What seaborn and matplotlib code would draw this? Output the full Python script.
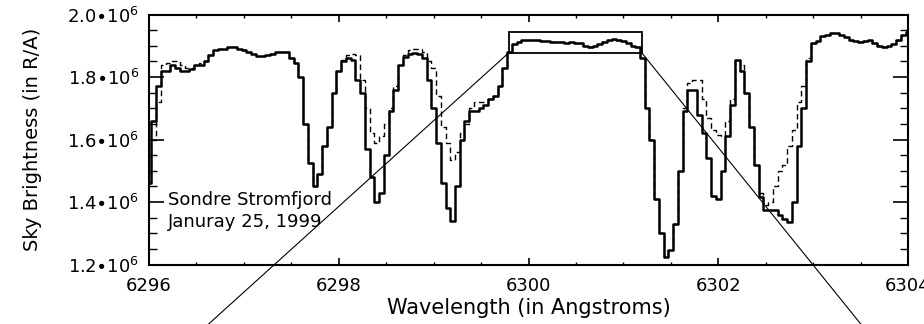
import numpy as np
import matplotlib
matplotlib.use("Agg")
import matplotlib.pyplot as plt
import seaborn as sns
from matplotlib.patches import Rectangle
from matplotlib.ticker import MultipleLocator, FixedLocator

# spectra sampled every 0.05 A starting at 6296.0 A (values in units of 1e6 R/A)
wl_start = 6296.0
wl_step = 0.05

solid = [
    1.46, 1.66, 1.77, 1.82, 1.82, 1.84, 1.83, 1.82, 1.82, 1.825,
    1.84, 1.84, 1.85, 1.87, 1.885, 1.89, 1.89, 1.895, 1.895, 1.89,
    1.885, 1.88, 1.875, 1.867, 1.867, 1.87, 1.875, 1.88, 1.88, 1.88,
    1.86, 1.845, 1.80, 1.65, 1.525, 1.45, 1.49, 1.58, 1.64, 1.75,
    1.82, 1.85, 1.86, 1.855, 1.79, 1.75, 1.57, 1.48, 1.40, 1.43,
    1.55, 1.69, 1.76, 1.84, 1.865, 1.875, 1.878, 1.875, 1.86, 1.79,
    1.70, 1.59, 1.46, 1.38, 1.34, 1.45, 1.60, 1.66, 1.69, 1.69,
    1.70, 1.71, 1.73, 1.74, 1.77, 1.83, 1.88, 1.905, 1.912, 1.918,
    1.92, 1.92, 1.918, 1.915, 1.915, 1.912, 1.912, 1.912, 1.91, 1.912,
    1.91, 1.908, 1.90, 1.896, 1.898, 1.905, 1.912, 1.92, 1.922, 1.92,
    1.915, 1.91, 1.90, 1.895, 1.86, 1.70, 1.60, 1.41, 1.30, 1.225,
    1.245, 1.33, 1.50, 1.69, 1.758, 1.76, 1.68, 1.62, 1.54, 1.42,
    1.41, 1.50, 1.61, 1.71, 1.855, 1.82, 1.75, 1.64, 1.52, 1.416,
    1.375, 1.375, 1.375, 1.36, 1.345, 1.336, 1.40, 1.58, 1.70, 1.85,
    1.91, 1.915, 1.932, 1.935, 1.94, 1.94, 1.935, 1.928, 1.92, 1.915,
    1.912, 1.915, 1.918, 1.91, 1.90, 1.895, 1.90, 1.905, 1.92, 1.935,
    1.945,
]

dashed = [
    1.46, 1.60, 1.72, 1.84, 1.845, 1.85, 1.85, 1.84, 1.83, 1.83,
    1.84, 1.845, 1.85, 1.87, 1.885, 1.89, 1.89, 1.895, 1.895, 1.89,
    1.885, 1.88, 1.875, 1.867, 1.867, 1.87, 1.875, 1.88, 1.88, 1.88,
    1.86, 1.845, 1.80, 1.65, 1.525, 1.45, 1.49, 1.58, 1.64, 1.75,
    1.82, 1.855, 1.87, 1.875, 1.87, 1.79, 1.70, 1.62, 1.59, 1.61,
    1.65, 1.70, 1.77, 1.84, 1.87, 1.885, 1.89, 1.89, 1.88, 1.85,
    1.83, 1.74, 1.64, 1.59, 1.535, 1.56, 1.62, 1.65, 1.70, 1.72,
    1.72, 1.72, 1.73, 1.74, 1.77, 1.83, 1.88, 1.905, 1.912, 1.918,
    1.92, 1.92, 1.918, 1.915, 1.915, 1.912, 1.912, 1.912, 1.91, 1.912,
    1.91, 1.908, 1.90, 1.896, 1.898, 1.905, 1.912, 1.92, 1.922, 1.92,
    1.915, 1.91, 1.90, 1.895, 1.86, 1.70, 1.60, 1.41, 1.30, 1.225,
    1.245, 1.33, 1.50, 1.70, 1.78, 1.79, 1.79, 1.73, 1.67, 1.63,
    1.615, 1.61, 1.66, 1.73, 1.855, 1.84, 1.75, 1.64, 1.52, 1.43,
    1.39, 1.40, 1.45, 1.50, 1.52, 1.58, 1.63, 1.72, 1.77, 1.86,
    1.91, 1.915, 1.932, 1.935, 1.94, 1.94, 1.935, 1.928, 1.92, 1.915,
    1.912, 1.915, 1.918, 1.91, 1.90, 1.895, 1.90, 1.905, 1.92, 1.935,
    1.945,
]

scale = 1e6
wl = wl_start + wl_step * np.arange(len(solid))
solid = np.array(solid) * scale
dashed = np.array(dashed) * scale

# zoom box on the flat top and the two lines running down to the (cut off) panel below
box_x = [6299.79, 6301.195]
box_y = [1.877e6, 1.944e6]
zoom_left_end = (6295.74, 0.766e6)
zoom_right_end = (6304.15, 0.766e6)

ytick_vals = [1.2e6, 1.4e6, 1.6e6, 1.8e6, 2.0e6]
ytick_labels = [r"$1.2{\bullet}10^6$", r"$1.4{\bullet}10^6$", r"$1.6{\bullet}10^6$",
                r"$1.8{\bullet}10^6$", r"$2.0{\bullet}10^6$"]

sns.set_style("ticks")
plt.rcParams["font.family"] = ["DejaVu Sans"]
plt.rcParams["text.color"] = "black"
plt.rcParams["axes.labelcolor"] = "black"
plt.rcParams["axes.edgecolor"] = "black"
plt.rcParams["xtick.color"] = "black"
plt.rcParams["ytick.color"] = "black"

fig = plt.figure(figsize=(9.24, 3.24), dpi=100)
ax = fig.add_axes([0.1613, 0.1836, 0.8214, 0.7716])

sns.lineplot(x=wl, y=dashed, ax=ax, color="black", lw=1.0,
             drawstyle="steps-mid", linestyle=(0, (4, 2.5)))
sns.lineplot(x=wl, y=solid, ax=ax, color="black", lw=1.8,
             drawstyle="steps-mid")

ax.set_xlim(6296, 6304)
ax.set_ylim(1.2e6, 2.0e6)

ax.add_patch(Rectangle((box_x[0], box_y[0]), box_x[1] - box_x[0], box_y[1] - box_y[0],
                       fill=False, edgecolor="black", lw=1.3))
ax.plot([box_x[0], zoom_left_end[0]], [box_y[0], zoom_left_end[1]],
        color="black", lw=0.8, clip_on=False)
ax.plot([box_x[1], zoom_right_end[0]], [box_y[0], zoom_right_end[1]],
        color="black", lw=0.8, clip_on=False)

ax.text(6296.2, 1.406e6, "Sondre Stromfjord", fontsize=13, va="center", ha="left",
        color="black")
ax.text(6296.2, 1.336e6, "Januray 25, 1999", fontsize=13, va="center", ha="left",
        color="black")

ax.xaxis.set_major_locator(MultipleLocator(2))
ax.xaxis.set_minor_locator(MultipleLocator(0.5))
ax.yaxis.set_major_locator(FixedLocator(ytick_vals))
ax.yaxis.set_minor_locator(MultipleLocator(0.05e6))
ax.set_yticklabels(ytick_labels)

ax.tick_params(axis="x", which="major", direction="in", length=5, width=1.2,
               top=True, labelsize=13, pad=9, colors="black")
ax.tick_params(axis="x", which="minor", direction="in", length=2.5, width=1.0, top=True,
               colors="black")
ax.tick_params(axis="y", which="major", direction="in", length=11, width=1.2,
               right=True, labelsize=13, pad=7, colors="black")
ax.tick_params(axis="y", which="minor", direction="in", length=6, width=1.0, right=True,
               colors="black")

for sp in ax.spines.values():
    sp.set_visible(True)
    sp.set_linewidth(1.5)
    sp.set_color("black")

ax.set_xlabel("Wavelength (in Angstroms)", fontsize=15, color="black")
ax.set_ylabel("Sky Brightness (in R/A)", fontsize=14, color="black")
ax.xaxis.set_label_coords(0.5, -0.135)
ax.yaxis.set_label_coords(-0.141, 0.5)

fig.savefig("out.png", dpi=100)
